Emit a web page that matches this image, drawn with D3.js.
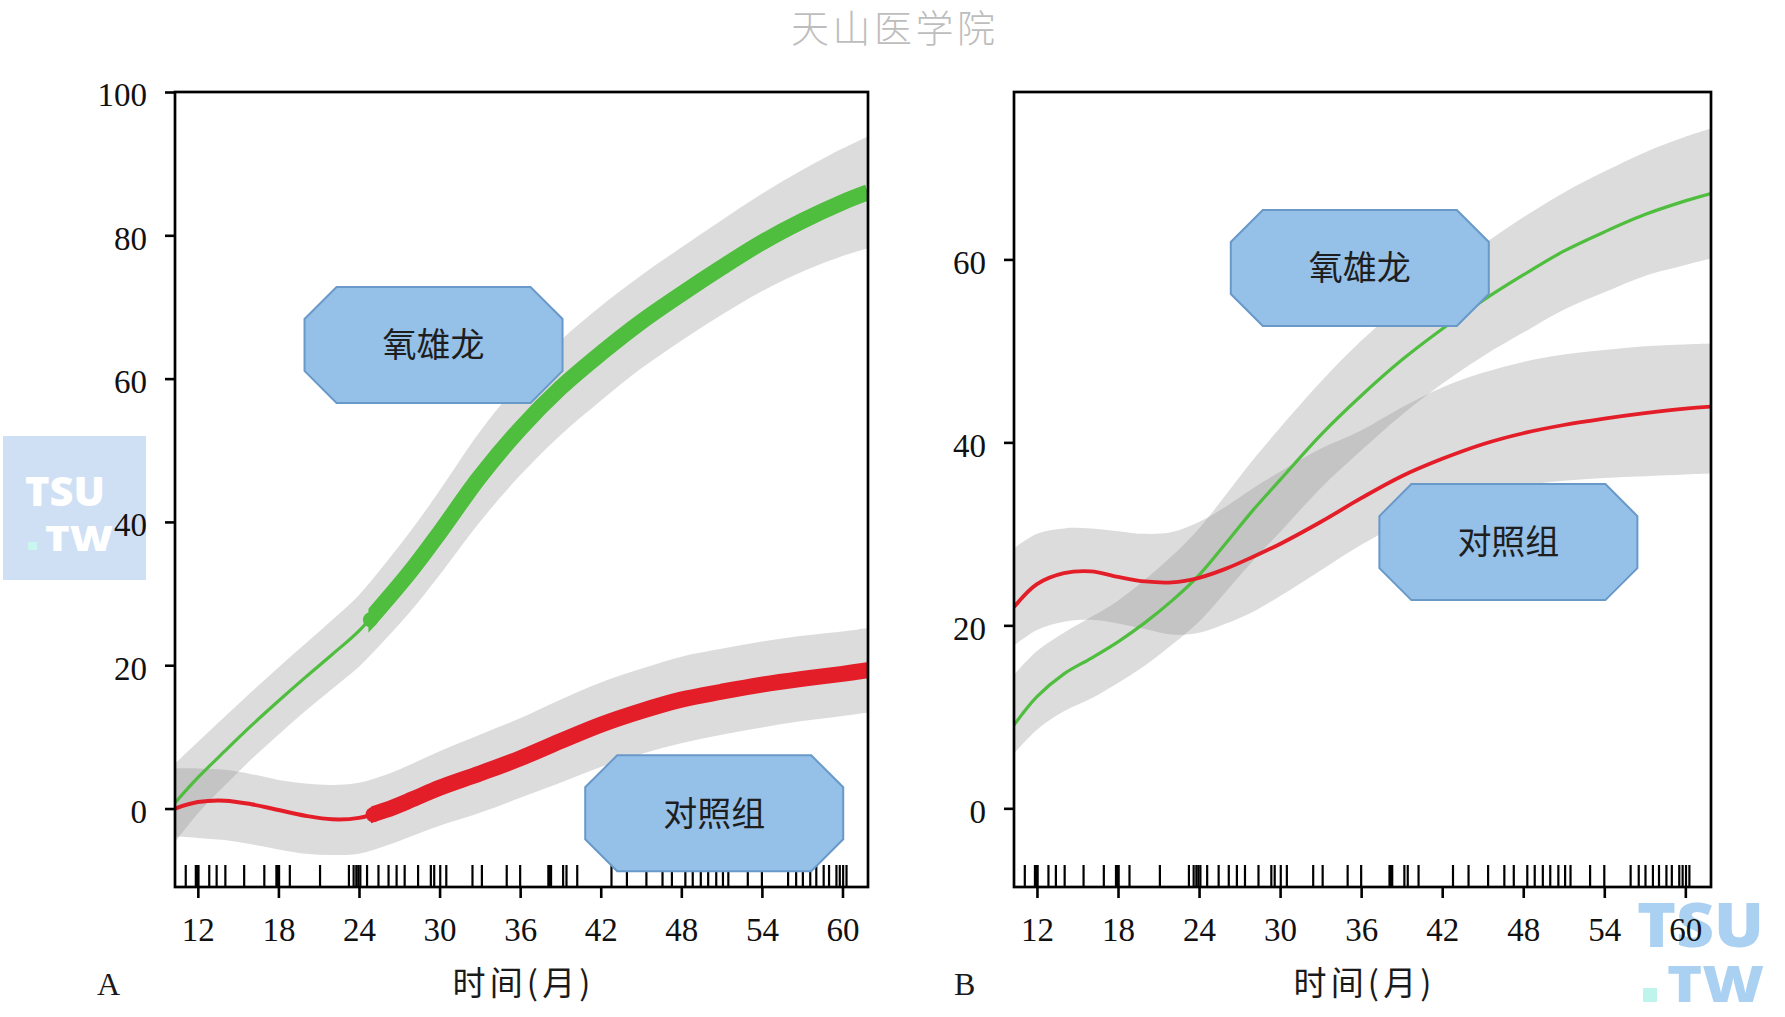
<!DOCTYPE html>
<html><head><meta charset="utf-8">
<script src="https://cdn.jsdelivr.net/npm/d3@7"></script>
<style>body{margin:0;background:#fff;}svg{display:block;}</style>
</head><body>
<svg id="chart" width="1785" height="1017"></svg>
<script>
// ---------------- DATA ----------------
const months = [10.3, 12, 14, 16, 18, 20, 22, 24, 26, 28, 30, 33, 36, 39, 42, 45, 48, 51, 54, 57, 60, 61.9];

// Panel A
const greenA    = [0.8, 4.3, 8.0, 11.6, 15.0, 18.3, 21.5, 24.8, 29.0, 33.5, 38.5, 46.3, 53.0, 58.7, 63.5, 67.9, 71.8, 75.5, 79.0, 82.0, 84.6, 86.0];
const greenA_hi = [6.3, 9.3, 12.8, 16.3, 19.7, 23.0, 26.3, 29.8, 34.3, 39.1, 44.4, 52.6, 59.5, 65.3, 70.1, 74.4, 78.3, 82.1, 85.8, 89.1, 92.1, 93.8];
const greenA_lo = [-4.7, -0.7, 3.2, 6.9, 10.3, 13.6, 16.7, 19.8, 23.7, 27.9, 32.6, 40.0, 46.5, 52.1, 56.9, 61.4, 65.3, 68.9, 72.2, 74.9, 77.1, 78.2];
const redA      = [0.0, 0.9, 1.1, 0.6, -0.2, -1.0, -1.5, -1.3, -0.2, 1.3, 2.9, 4.9, 7.0, 9.4, 11.7, 13.6, 15.2, 16.3, 17.3, 18.1, 18.8, 19.3];
const redA_hi   = [5.6, 5.6, 5.4, 4.8, 4.0, 3.5, 3.3, 3.6, 4.7, 6.3, 8.0, 10.3, 12.6, 15.2, 17.6, 19.5, 21.2, 22.3, 23.3, 24.1, 24.7, 25.2];
const redA_lo   = [-3.9, -4.1, -4.4, -5.0, -5.7, -6.3, -6.5, -6.3, -5.2, -3.8, -2.4, -0.6, 1.5, 3.6, 5.8, 7.6, 9.1, 10.3, 11.3, 12.2, 12.9, 13.4];
const thickFromA = [24.7, 24.9]; // month where the bold part of each curve starts (green, red)

// Panel B
const greenB    = [9.1, 12.2, 14.7, 16.4, 18.2, 20.3, 22.7, 25.5, 29.0, 32.6, 35.9, 40.8, 45.1, 49.0, 52.4, 55.5, 58.3, 60.9, 63.0, 64.9, 66.4, 67.2];
const greenB_hi = [14.6, 17.2, 19.2, 20.9, 22.7, 25.0, 27.6, 30.6, 34.3, 38.1, 41.6, 46.6, 51.1, 55.0, 58.4, 61.6, 64.6, 67.3, 69.6, 71.7, 73.4, 74.3];
const greenB_lo = [6.0, 8.6, 10.6, 12.0, 13.7, 15.6, 17.9, 20.4, 23.7, 27.1, 30.2, 35.0, 39.1, 43.0, 46.4, 49.4, 52.0, 54.5, 56.4, 58.2, 59.4, 60.1];
const redB      = [22.0, 24.5, 25.7, 25.9, 25.3, 24.8, 24.7, 25.2, 26.2, 27.5, 28.9, 31.3, 33.9, 36.3, 38.2, 39.8, 41.0, 41.9, 42.6, 43.2, 43.7, 43.9];
const redB_hi   = [28.4, 30.0, 30.6, 30.6, 30.3, 30.0, 30.2, 31.3, 33.0, 35.0, 36.8, 39.3, 41.3, 43.8, 46.0, 47.6, 48.8, 49.6, 50.1, 50.5, 50.7, 50.8];
const redB_lo   = [17.8, 19.5, 20.4, 20.6, 20.2, 19.6, 19.0, 19.2, 20.2, 21.5, 23.2, 26.0, 28.8, 31.2, 33.2, 34.5, 35.3, 35.8, 36.1, 36.3, 36.5, 36.6];

// rug: follow-up times (months)
const rugMonths = [11.1, 11.85, 11.95, 12.05, 12.85, 13.4, 14.05, 15.45, 16.95, 17.85, 17.95, 18.05, 18.85, 21.1,
  23.25, 23.6, 23.8, 23.95, 24.1, 24.6, 25.45, 26.2, 26.8, 27.4, 28.4, 29.35, 29.6, 30.05, 30.5, 32.45, 33.15, 35.0,
  36.0, 38.1, 38.2, 38.3, 39.2, 39.45, 40.25, 42.8, 43.95, 45.4, 46.6, 47.3, 48.3, 48.85, 49.45, 50.0, 50.6, 51.1, 51.5,
  52.95, 54.0, 55.95, 56.55, 57.05, 57.6, 58.05, 58.6, 59.0, 59.55, 59.8, 60.05, 60.3];

const xTicks = [12, 18, 24, 30, 36, 42, 48, 54, 60];
const yTicksA = [0, 20, 40, 60, 80, 100];
const yTicksB = [0, 20, 40, 60];
const seriesNames = ["氧雄龙", "对照组"];
const labelAnchorsA = [[29.55, 64.7], [50.45, -0.66]];   // data-space centres of the label boxes
const labelAnchorsB = [[35.9, 59.06], [46.9, 29.1]];
const panelLetters = ["A", "B"];
const xTitle = "时间(月)";
const titleText = "天山医学院";

// ---------------- LAYOUT / STYLE ----------------
const svg = d3.select("#chart");
const plotTop = 92, plotBottom = 887;
const xDomain = [10.3, 61.9];
const GREEN = "#4fbd3e", RED = "#e31e29";
const numFont = "'Liberation Serif','Times New Roman',serif";
const cjkFont = "'Noto Sans CJK SC','Noto Sans CJK JP',sans-serif";
const wmFont = "'Open Sans','DejaVu Sans',sans-serif";

svg.append("rect").attr("width", 1785).attr("height", 1017).attr("fill", "#ffffff");

// left watermark block
const wm = svg.append("g");
wm.append("rect").attr("x", 3).attr("y", 436).attr("width", 143).attr("height", 144).attr("fill", "#cfe0f5");
wm.append("text").attr("x", 25).attr("y", 506).text("TSU")
  .attr("font-family", wmFont).attr("font-weight", 800)
  .attr("font-size", 41).attr("textLength", 80).attr("lengthAdjust", "spacingAndGlyphs").attr("fill", "#ffffff");
wm.append("rect").attr("x", 28).attr("y", 542).attr("width", 9).attr("height", 8).attr("fill", "#c9f6ef");
wm.append("text").attr("x", 45).attr("y", 551).text("TW")
  .attr("font-family", wmFont).attr("font-weight", 800)
  .attr("font-size", 35).attr("textLength", 68).attr("lengthAdjust", "spacingAndGlyphs").attr("fill", "#ffffff");

// right-bottom watermark
const wm2 = svg.append("g").attr("opacity", 0.85);
wm2.append("text").attr("x", 1637).attr("y", 947).text("TSU")
  .attr("font-family", wmFont).attr("font-weight", 800)
  .attr("font-size", 62).attr("textLength", 127).attr("lengthAdjust", "spacingAndGlyphs").attr("fill", "#9cc8f0");
wm2.append("rect").attr("x", 1643).attr("y", 988).attr("width", 14).attr("height", 14).attr("fill", "#b5f3ea");
wm2.append("text").attr("x", 1667).attr("y", 1002).text("TW")
  .attr("font-family", wmFont).attr("font-weight", 800)
  .attr("font-size", 50).attr("textLength", 97).attr("lengthAdjust", "spacingAndGlyphs").attr("fill", "#9cc8f0");

// title
svg.append("text").attr("x", 893).attr("y", 42).attr("text-anchor", "middle").text(titleText)
  .attr("font-family", cjkFont).attr("font-size", 38).attr("font-weight", 300)
  .attr("fill", "#bdbdbd").attr("textLength", 204).attr("lengthAdjust", "spacing");

const panels = [
  { key: "A", x0: 175, x1: 868, yDomain: [-10.95, 100], yTicks: yTicksA, letterX: 97,
    series: [
      { c: greenA, lo: greenA_lo, hi: greenA_hi, color: GREEN, thin: 3.2, thick: 16, from: thickFromA[0] },
      { c: redA, lo: redA_lo, hi: redA_hi, color: RED, thin: 4, thick: 16, from: thickFromA[1] }
    ], anchors: labelAnchorsA },
  { key: "B", x0: 1014, x1: 1711, yDomain: [-8.6, 78.3], yTicks: yTicksB, letterX: 954,
    series: [
      { c: greenB, lo: greenB_lo, hi: greenB_hi, color: GREEN, thin: 3.2 },
      { c: redB, lo: redB_lo, hi: redB_hi, color: RED, thin: 3.8 }
    ], anchors: labelAnchorsB }
];

function octagon(cx, cy, w, h, k) {
  const x0 = cx - w / 2, x1 = cx + w / 2, y0 = cy - h / 2, y1 = cy + h / 2;
  return `M${x0 + k},${y0}L${x1 - k},${y0}L${x1},${y0 + k}L${x1},${y1 - k}L${x1 - k},${y1}L${x0 + k},${y1}L${x0},${y1 - k}L${x0},${y0 + k}Z`;
}

// find the point on a drawn path whose x equals tx (binary search on length)
function pointAtX(pathNode, tx) {
  let lo = 0, hi = pathNode.getTotalLength();
  for (let k = 0; k < 40; k++) {
    const mid = (lo + hi) / 2;
    if (pathNode.getPointAtLength(mid).x < tx) lo = mid; else hi = mid;
  }
  return pathNode.getPointAtLength((lo + hi) / 2);
}

panels.forEach((p, pi) => {
  const x = d3.scaleLinear().domain(xDomain).range([p.x0, p.x1]);
  const y = d3.scaleLinear().domain(p.yDomain).range([plotBottom, plotTop]);
  const g = svg.append("g");
  const defs = svg.append("defs");
  defs.append("clipPath").attr("id", "clip" + p.key).append("rect")
    .attr("x", p.x0).attr("y", plotTop).attr("width", p.x1 - p.x0).attr("height", plotBottom - plotTop);

  const plot = g.append("g").attr("clip-path", `url(#clip${p.key})`);
  const curve = d3.curveCatmullRom.alpha(0.5);
  const area = d3.area().curve(curve).x(d => x(d.m)).y0(d => y(d.lo)).y1(d => y(d.hi));
  const line = d3.line().curve(curve).x(d => x(d.m)).y(d => y(d.c));

  const rows = p.series.map(s => months.map((m, i) => ({ m, c: s.c[i], lo: s.lo[i], hi: s.hi[i] })));
  rows.forEach(r => {
    plot.append("path").datum(r).attr("d", area).attr("fill", "#8f8f8f").attr("fill-opacity", 0.31);
  });
  rows.forEach((r, si) => {
    const s = p.series[si];
    const thinPath = plot.append("path").datum(r).attr("d", line).attr("fill", "none")
      .attr("stroke", s.color).attr("stroke-width", s.thin).attr("stroke-linejoin", "round");
    if (s.from !== undefined) {
      const cid = `thick${p.key}${si}`;
      const xs = x(s.from);
      defs.append("clipPath").attr("id", cid).append("rect")
        .attr("x", xs).attr("y", plotTop).attr("width", p.x1 - xs).attr("height", plotBottom - plotTop);
      plot.append("g").attr("clip-path", `url(#${cid})`)
        .append("path").datum(r).attr("d", line).attr("fill", "none")
        .attr("stroke", s.color).attr("stroke-width", s.thick).attr("stroke-linejoin", "round");
      const pt = pointAtX(thinPath.node(), xs + 1);
      plot.append("circle").attr("cx", pt.x + 1).attr("cy", pt.y).attr("r", s.thick / 2 - 0.5).attr("fill", s.color);
    }
  });

  // rug
  g.append("g").selectAll("line").data(rugMonths).join("line")
    .attr("x1", d => x(d)).attr("x2", d => x(d)).attr("y1", plotBottom).attr("y2", plotBottom - 22)
    .attr("stroke", "#000").attr("stroke-width", 2.2);

  // label boxes
  p.anchors.forEach((a, i) => {
    const cx = x(a[0]), cy = y(a[1]);
    g.append("path").attr("d", octagon(cx, cy, 258, 116, 32))
      .attr("fill", "#95c0e8").attr("stroke", "#6899c8").attr("stroke-width", 2);
    g.append("text").attr("x", cx).attr("y", cy).attr("dy", "0.36em").attr("text-anchor", "middle")
      .text(seriesNames[i]).attr("font-family", cjkFont).attr("font-size", 34).attr("fill", "#1e1e1e");
  });

  // frame
  g.append("rect").attr("x", p.x0).attr("y", plotTop).attr("width", p.x1 - p.x0).attr("height", plotBottom - plotTop)
    .attr("fill", "none").attr("stroke", "#000").attr("stroke-width", 2.7);

  // axes
  const ax = g.append("g").attr("transform", `translate(0,${plotBottom})`)
    .call(d3.axisBottom(x).tickValues(xTicks).tickSize(11).tickPadding(20).tickFormat(d3.format("d")));
  const ay = g.append("g").attr("transform", `translate(${p.x0},0)`)
    .call(d3.axisLeft(y).tickValues(p.yTicks).tickSize(10).tickPadding(18).tickFormat(d3.format("d")));
  [ax, ay].forEach(a => {
    a.select(".domain").remove();
    a.selectAll(".tick line").attr("stroke", "#000").attr("stroke-width", 2.6);
    a.selectAll(".tick text").attr("font-family", numFont).attr("font-size", 33).attr("fill", "#111");
  });
  ay.selectAll(".tick text").attr("dy", "0.42em");

  // axis title and panel letter
  g.append("text").attr("x", (p.x0 + p.x1) / 2).attr("y", 995).attr("text-anchor", "middle")
    .text(xTitle).attr("font-family", cjkFont).attr("font-size", 33).attr("fill", "#1a1a1a")
    .attr("textLength", 138).attr("lengthAdjust", "spacing");
  g.append("text").attr("x", p.letterX).attr("y", 995).text(panelLetters[pi])
    .attr("font-family", numFont).attr("font-size", 32).attr("fill", "#1a1a1a");
});
</script>
</body></html>
